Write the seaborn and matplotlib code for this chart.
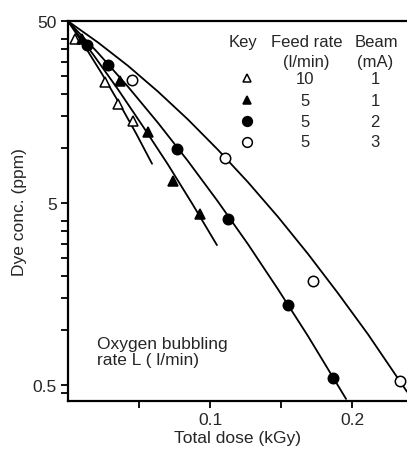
import numpy as np
import pandas as pd
import matplotlib
matplotlib.use("Agg")
import matplotlib.pyplot as plt
import seaborn as sns

tri_open_x = [0.005, 0.026, 0.035, 0.046]
tri_open_y = [39.8, 23.1, 17.5, 14.1]
tri_fill_x = [0.010, 0.0366, 0.0563, 0.0739, 0.093]
tri_fill_y = [39.8, 23.4, 12.3, 6.6, 4.35]
circ_fill_x = [0.0134, 0.0282, 0.0768, 0.1127, 0.1549, 0.1866]
circ_fill_y = [36.9, 28.7, 9.9, 4.08, 1.38, 0.55]
circ_open_x = [0.0451, 0.1106, 0.1725, 0.2338]
circ_open_y = [23.7, 8.8, 1.86, 0.53]

# fitted curves
fit_tri_open_x = [0.0, 0.0120, 0.0239, 0.0359, 0.0479, 0.0592]
fit_tri_open_y = [50, 36.2, 25.7, 17.8, 12.1, 8.23]
fit_tri_fill_x = [0.0, 0.0176, 0.0352, 0.0528, 0.0704, 0.0880, 0.1049]
fit_tri_fill_y = [50, 32.9, 21.1, 13.2, 8.15, 4.89, 2.94]
fit_circ_fill_x = [0.0, 0.0211, 0.0423, 0.0634, 0.0845, 0.1056, 0.1268, 0.1479, 0.1690, 0.1958]
fit_circ_fill_y = [50, 33.5, 21.8, 13.8, 8.51, 5.10, 2.97, 1.68, 0.93, 0.42]
fit_circ_open_x = [0.0, 0.0211, 0.0423, 0.0634, 0.0845, 0.1056, 0.1268, 0.1479,
                   0.1690, 0.1901, 0.2113, 0.2387]
fit_circ_open_y = [50, 38.2, 28.4, 20.5, 14.4, 9.82, 6.51, 4.20, 2.63, 1.60, 0.95, 0.46]

key_feed = ["10", "5", "5", "5"]
key_beam = ["1", "1", "2", "3"]

sns.set_theme(style="ticks")
plt.rcParams['font.family'] = ['Liberation Sans', 'DejaVu Sans']

fig = plt.figure(figsize=(4.07, 4.52), dpi=100)
ax = fig.add_axes([0.167, 0.111, 0.833, 0.840])

# curves
for fx, fy in [(fit_tri_open_x, fit_tri_open_y), (fit_tri_fill_x, fit_tri_fill_y),
               (fit_circ_fill_x, fit_circ_fill_y), (fit_circ_open_x, fit_circ_open_y)]:
    sns.lineplot(x=fx, y=fy, ax=ax, color="black", linewidth=1.3,
                 sort=False, estimator=None)

# points
styles = [
    (tri_open_x, tri_open_y, "^", "white", 6.5),
    (tri_fill_x, tri_fill_y, "^", "black", 6.5),
    (circ_fill_x, circ_fill_y, "o", "black", 7.5),
    (circ_open_x, circ_open_y, "o", "white", 7.5),
]
for px, py, m, fc, ms in styles:
    ax.plot(px, py, linestyle="none", marker=m, markerfacecolor=fc,
            markeredgecolor="black", markeredgewidth=1.1, markersize=ms, zorder=5)

ax.set_yscale("log")
ax.set_xlim(0, 0.2387)
ax.set_ylim(0.41, 50)

ax.set_yticks([0.5, 5, 50], labels=["0.5", "5", "50"])
ax.set_yticks([0.45, 1, 1.5, 2, 2.5, 3, 3.5, 4, 10, 15, 20, 25, 30, 35, 40], minor=True)
ax.yaxis.set_minor_formatter(matplotlib.ticker.NullFormatter())
ax.set_xticks([0.1, 0.2], labels=["0.1", "0.2"])
ax.set_xticks([0.05, 0.15], minor=True)

ax.tick_params(which="both", direction="out", length=5, width=1.3, color="black",
               labelsize=12.5, pad=3)
for side in ["left", "bottom", "top"]:
    ax.spines[side].set_linewidth(1.6)
    ax.spines[side].set_color("black")
ax.spines["right"].set_visible(False)

ax.set_xlabel("Total dose (kGy)", fontsize=12.5, labelpad=2)
ax.set_ylabel("Dye conc. (ppm)", fontsize=12.5, labelpad=4)

# key table
tk = dict(transform=ax.transAxes, fontsize=12, ha="center", va="center")
ax.text(0.516, 0.947, "Key", **tk)
ax.text(0.705, 0.947, "Feed rate", **tk)
ax.text(0.909, 0.947, "Beam", **tk)
ax.text(0.702, 0.895, "(l/min)", **tk)
ax.text(0.906, 0.895, "(mA)", **tk)
row_y = [0.850, 0.792, 0.737, 0.682]
for (px, py, m, fc, ms), ry, fr, bm in zip(styles, row_y, key_feed, key_beam):
    ax.plot([0.528], [ry], transform=ax.transAxes, linestyle="none", marker=m,
            markerfacecolor=fc, markeredgecolor="black", markeredgewidth=1.1,
            markersize=ms - 0.5, clip_on=False)
    ax.text(0.699, ry, fr, **tk)
    ax.text(0.906, ry, bm, **tk)

ax.text(0.0855, 0.13, "Oxygen bubbling\nrate L ( l/min)", transform=ax.transAxes,
        fontsize=12.5, ha="left", va="center", linespacing=1.15)

fig.savefig("out.png", dpi=100)
